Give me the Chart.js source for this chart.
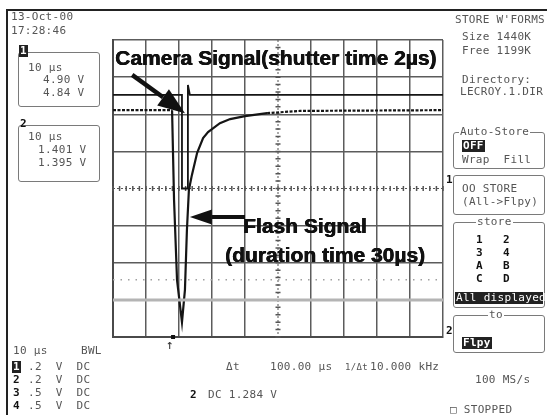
<!DOCTYPE html>
<html lang="en">
<head>
<meta charset="utf-8">
<title>Camera and flash signal</title>
<script src="https://cdn.jsdelivr.net/npm/chart.js@4.4.0/dist/chart.umd.min.js"></script>
<style>
* { margin: 0; padding: 0; box-sizing: border-box; }
body {
  width: 547px;
  height: 415px;
  background: #fff;
  position: relative;
  overflow: hidden;
  font-family: "DejaVu Sans Mono", monospace;
}
#scope { position: absolute; left: 0; top: 0; }
.t {
  position: absolute;
  font-size: 11px;
  line-height: 12px;
  color: #555;
  white-space: pre;
  letter-spacing: 0.3px;
}
.b { font-weight: bold; color: #111; }
.inv { background: #222; color: #fff; padding: 0 1px; }
.big {
  position: absolute;
  font-family: "Liberation Sans", Arial, sans-serif;
  font-weight: bold;
  font-size: 21px;
  line-height: 21px;
  color: #111;
  white-space: pre;
  text-shadow: 0.6px 0 0 #111, 0 0.4px 0 #111;
}
.box {
  position: absolute;
  border: 1.5px solid #7a7a7a;
  border-radius: 3px;
}
.ttl { background: #fff; padding: 0 1px; }
.frame { position: absolute; background: #222; }
</style>
</head>
<body>
<canvas id="scope" width="547" height="415"></canvas>

<div class="frame" style="left:6px;top:9px;width:541px;height:2px"></div>
<div class="frame" style="left:6px;top:9px;width:2px;height:406px"></div>

<!-- top left -->
<div class="t" style="left:11px;top:11px">13-Oct-00</div>
<div class="t" style="left:11px;top:25px">17:28:46</div>

<div class="box" style="left:18px;top:52px;width:82px;height:55px"></div>
<div class="t b inv" style="left:19px;top:45px">1</div>
<div class="t" style="left:28px;top:62px">10 µs</div>
<div class="t" style="left:43px;top:74px">4.90 V</div>
<div class="t" style="left:43px;top:87px">4.84 V</div>

<div class="box" style="left:18px;top:125px;width:82px;height:57px"></div>
<div class="t b" style="left:20px;top:118px">2</div>
<div class="t" style="left:28px;top:131px">10 µs</div>
<div class="t" style="left:38px;top:144px">1.401 V</div>
<div class="t" style="left:38px;top:157px">1.395 V</div>

<!-- bottom left -->
<div class="t" style="left:13px;top:345px">10 µs</div>
<div class="t" style="left:81px;top:345px">BWL</div>
<div class="t b inv" style="left:12px;top:361px">1</div>
<div class="t" style="left:28px;top:361px">.2  V  DC</div>
<div class="t b" style="left:13px;top:374px">2</div>
<div class="t" style="left:28px;top:374px">.2  V  DC</div>
<div class="t b" style="left:13px;top:387px">3</div>
<div class="t" style="left:28px;top:387px">.5  V  DC</div>
<div class="t b" style="left:13px;top:400px">4</div>
<div class="t" style="left:28px;top:400px">.5  V  DC</div>

<!-- bottom middle -->
<div class="t" style="left:226px;top:361px">Δt</div>
<div class="t" style="left:270px;top:361px">100.00 µs</div>
<div class="t" style="left:345px;top:361px;font-size:9px">1/Δt</div>
<div class="t" style="left:370px;top:361px">10.000 kHz</div>
<div class="t b" style="left:190px;top:389px">2</div>
<div class="t" style="left:208px;top:389px">DC 1.284 V</div>
<div class="t" style="left:166px;top:339px;font-size:13px;color:#333">↑</div>

<!-- right panel -->
<div class="t" style="left:455px;top:14px">STORE W'FORMS</div>
<div class="t" style="left:462px;top:31px">Size 1440K</div>
<div class="t" style="left:462px;top:45px">Free 1199K</div>
<div class="t" style="left:462px;top:74px">Directory:</div>
<div class="t" style="left:460px;top:86px">LECROY.1.DIR</div>

<div class="box" style="left:453px;top:132px;width:92px;height:37px"></div>
<div class="t ttl" style="left:459px;top:126px">Auto-Store</div>
<div class="t inv b" style="left:462px;top:140px">OFF</div>
<div class="t" style="left:462px;top:154px">Wrap  Fill</div>

<div class="box" style="left:453px;top:175px;width:92px;height:40px"></div>
<div class="t" style="left:462px;top:183px">OO STORE</div>
<div class="t" style="left:462px;top:196px">(All->Flpy)</div>

<div class="box" style="left:453px;top:222px;width:92px;height:86px"></div>
<div class="t ttl" style="left:476px;top:216px">store</div>
<div class="t b" style="left:476px;top:234px">1</div><div class="t b" style="left:503px;top:234px">2</div>
<div class="t b" style="left:476px;top:247px">3</div><div class="t b" style="left:503px;top:247px">4</div>
<div class="t b" style="left:476px;top:260px">A</div><div class="t b" style="left:503px;top:260px">B</div>
<div class="t b" style="left:476px;top:273px">C</div><div class="t b" style="left:503px;top:273px">D</div>
<div class="t inv" style="left:455px;top:292px;width:88px">All displayed</div>

<div class="box" style="left:453px;top:315px;width:92px;height:38px"></div>
<div class="t ttl" style="left:488px;top:309px">to</div>
<div class="t inv b" style="left:462px;top:337px">Flpy</div>

<div class="t" style="left:475px;top:374px">100 MS/s</div>
<div class="t" style="left:450px;top:404px">□ STOPPED</div>

<div class="t b" style="left:446px;top:174px">1</div>
<div class="t b" style="left:446px;top:325px">2</div>

<!-- annotations -->
<div class="big" style="left:115px;top:47px">Camera Signal(shutter time 2µs)</div>
<div class="big" style="left:243px;top:215px">Flash Signal</div>
<div class="big" style="left:225px;top:244px">(duration time 30µs)</div>

<script>
// screen is 10 divisions of 10 µs, 8 vertical divisions
const timeTicks = [0, 10, 20, 30, 40, 50, 60, 70, 80, 90, 100];
const divTicks = [-4, -3, -2, -1, 0, 1, 2, 3, 4];

// channel 1: camera trigger (divisions from centre)
const cameraTime = [0, 20.9, 20.9, 22.7, 22.7, 23.3, 100];
const cameraLevel = [2.52, 2.52, 0, 0, 2.79, 2.52, 2.52];

// channel 2: flash
const flashTime = [0, 17.9, 18.5, 19.4, 20.9, 21.8, 22.4, 23.0, 23.9, 25.5, 27.3, 28.8, 32.4, 35.5, 40.0, 46.7, 56.7, 100];
const flashLevel = [2.11, 2.11, -0.31, -2.46, -3.6, -2.73, -1.12, -0.04, 0.36, 0.96, 1.36, 1.52, 1.76, 1.87, 1.95, 2.03, 2.09, 2.11];

// reference levels of the other channels
const dottedLevel = -2.46;
const greyLevel = -3.0;

// annotation arrows [fromTime, fromLevel, toTime, toLevel]
const cameraArrow = [5.8, 3.06, 21.8, 2.03];
const flashArrow = [40.0, -0.77, 23.3, -0.77];
const triggerTime = 18.2;

const flat = (lvl) => [{ x: 0, y: lvl }, { x: 100, y: lvl }];
const toPoints = (xs, ys) => xs.map((x, i) => ({ x: x, y: ys[i] }));

function arrow(ctx, x1, y1, x2, y2, w, len, half) {
  const a = Math.atan2(y2 - y1, x2 - x1);
  const bx = x2 - Math.cos(a) * len, by = y2 - Math.sin(a) * len;
  ctx.save();
  ctx.strokeStyle = "#111";
  ctx.fillStyle = "#111";
  ctx.lineWidth = w;
  ctx.beginPath();
  ctx.moveTo(x1, y1);
  ctx.lineTo(bx, by);
  ctx.stroke();
  ctx.beginPath();
  ctx.moveTo(x2, y2);
  ctx.lineTo(bx + Math.sin(a) * half, by - Math.cos(a) * half);
  ctx.lineTo(bx - Math.sin(a) * half, by + Math.cos(a) * half);
  ctx.closePath();
  ctx.fill();
  ctx.restore();
}

const scopeExtras = {
  id: "scopeExtras",
  beforeDatasetsDraw(chart) {
    const { ctx, scales: { x, y } } = chart;
    const cx = x.getPixelForValue(50), cy = y.getPixelForValue(0);
    ctx.save();
    ctx.strokeStyle = "#555";
    ctx.lineWidth = 1;
    ctx.setLineDash([2, 2]);
    ctx.beginPath();
    ctx.moveTo(x.left, cy); ctx.lineTo(x.right, cy);
    ctx.moveTo(cx, y.top); ctx.lineTo(cx, y.bottom);
    ctx.stroke();
    ctx.setLineDash([]);
    ctx.lineWidth = 1.5;
    ctx.beginPath();
    for (let t = 0; t <= 100; t += 2) {
      const px = x.getPixelForValue(t);
      ctx.moveTo(px, cy - 2.5); ctx.lineTo(px, cy + 2.5);
    }
    for (let d = -4; d <= 4; d += 0.2) {
      const py = y.getPixelForValue(d);
      ctx.moveTo(cx - 2.5, py); ctx.lineTo(cx + 2.5, py);
    }
    ctx.stroke();
    ctx.restore();
  },
  afterDatasetsDraw(chart) {
    const { ctx, scales: { x, y } } = chart;
    arrow(ctx, x.getPixelForValue(cameraArrow[0]), y.getPixelForValue(cameraArrow[1]),
      x.getPixelForValue(cameraArrow[2]), y.getPixelForValue(cameraArrow[3]), 4.5, 27, 10);
    arrow(ctx, x.getPixelForValue(flashArrow[0]), y.getPixelForValue(flashArrow[1]),
      x.getPixelForValue(flashArrow[2]), y.getPixelForValue(flashArrow[3]), 4, 22, 7.5);
    const tx = x.getPixelForValue(triggerTime);
    ctx.fillStyle = "#111";
    ctx.fillRect(tx - 2, y.bottom - 2, 4, 4);
  }
};

const gridColor = (c) => (c.tick && c.tick.value === (c.scale.axis === "x" ? 50 : 0)) ? "rgba(0,0,0,0)" : "#5c5c5c";

new Chart(document.getElementById("scope"), {
  type: "line",
  plugins: [scopeExtras],
  data: {
    datasets: [
      {
        label: "grey",
        data: flat(greyLevel),
        borderColor: "#b4b4b4",
        borderWidth: 3,
        pointRadius: 0
      },
      {
        label: "dotted",
        data: flat(dottedLevel),
        borderColor: "#a0a0a0",
        borderWidth: 1.5,
        borderDash: [1.5, 6],
        pointRadius: 0
      },
      {
        label: "Camera Signal",
        data: toPoints(cameraTime, cameraLevel),
        borderColor: "#151515",
        borderWidth: 1.8,
        pointRadius: 0,
        tension: 0
      },
      {
        label: "Flash Signal",
        data: toPoints(flashTime, flashLevel),
        borderColor: "#151515",
        borderWidth: 2.2,
        pointRadius: 0,
        tension: 0,
        segment: {
          borderDash: (c) => (c.p0.parsed.y > 2.0 && c.p1.parsed.y > 2.0) ? [3, 1.5] : undefined
        }
      }
    ]
  },
  options: {
    responsive: false,
    devicePixelRatio: 1,
    animation: false,
    layout: { padding: { left: 113, right: 104, top: 40, bottom: 78 } },
    plugins: { legend: { display: false }, tooltip: { enabled: false } },
    scales: {
      x: {
        type: "linear",
        min: timeTicks[0],
        max: timeTicks[timeTicks.length - 1],
        afterBuildTicks: (s) => { s.ticks = timeTicks.map((v) => ({ value: v })); },
        ticks: { display: false },
        grid: { color: gridColor, lineWidth: 1.5, drawTicks: false },
        border: { color: "#4a4a4a", width: 2 }
      },
      y: {
        type: "linear",
        min: divTicks[0],
        max: divTicks[divTicks.length - 1],
        afterBuildTicks: (s) => { s.ticks = divTicks.map((v) => ({ value: v })); },
        ticks: { display: false },
        grid: { color: gridColor, lineWidth: 1.5, drawTicks: false },
        border: { color: "#4a4a4a", width: 2 }
      }
    }
  }
});
</script>
</body>
</html>
